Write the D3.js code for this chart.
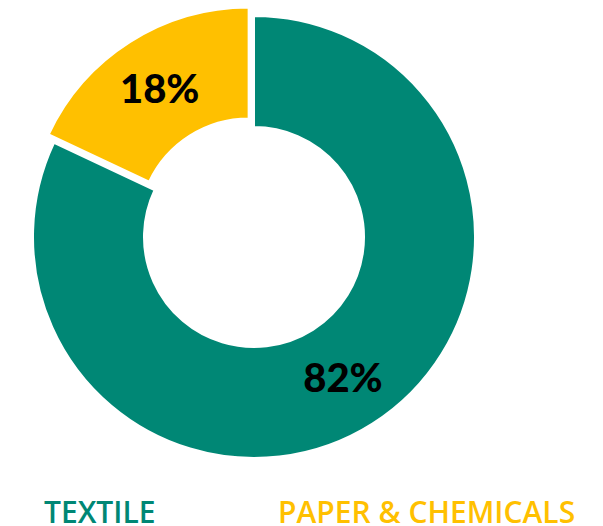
<!DOCTYPE html>
<html>
<head>
<meta charset="utf-8">
<script src="https://cdn.jsdelivr.net/npm/d3@7"></script>
<style>
  body { margin: 0; background: #fff; }
  svg { display: block; }
</style>
</head>
<body>
<div id="chart"></div>
<script>
// data
var categories = ["TEXTILE", "PAPER & CHEMICALS"];
var values = [82, 18];
var colors = ["#008775", "#FFC000"];

var width = 603;
var height = 526;

// donut geometry
var cx = 254, cy = 237;
var outerR = 221, innerR = 110;
var explode = [0, 10];   // the small slice is pulled out a bit
var labelR = 166;

var svg = d3.select("#chart")
  .append("svg")
  .attr("width", width)
  .attr("height", height);

var pie = d3.pie().sort(null).value(function (d) { return d; });
var arcs = pie(values);

var arc = d3.arc().innerRadius(innerR).outerRadius(outerR);

var g = svg.append("g").attr("transform", "translate(" + cx + "," + cy + ")");

function dirOf(d) {
  var a = (d.startAngle + d.endAngle) / 2;
  return [Math.sin(a), -Math.cos(a)];
}

var slices = g.selectAll("g.slice")
  .data(arcs)
  .enter()
  .append("g")
  .attr("class", "slice")
  .attr("transform", function (d, i) {
    var v = dirOf(d);
    return "translate(" + v[0] * explode[i] + "," + v[1] * explode[i] + ")";
  });

slices.append("path")
  .attr("d", arc)
  .attr("fill", function (d, i) { return colors[i]; })
  .attr("stroke", "#fff")
  .attr("stroke-width", 2);

slices.append("text")
  .attr("x", function (d) { return dirOf(d)[0] * labelR; })
  .attr("y", function (d) { return dirOf(d)[1] * labelR; })
  .attr("dy", "0.36em")
  .attr("text-anchor", "middle")
  .attr("font-family", "Lato, 'Open Sans', sans-serif")
  .attr("font-weight", 900)
  .attr("font-size", 40)
  .attr("fill", "#000")
  .text(function (d) { return d.data + "%"; });

// legend: coloured words only
var legendX = [44, 278];
svg.selectAll("text.legend")
  .data(categories)
  .enter()
  .append("text")
  .attr("class", "legend")
  .attr("x", function (d, i) { return legendX[i]; })
  .attr("y", 523)
  .attr("font-family", "'Open Sans', sans-serif")
  .attr("font-weight", 600)
  .attr("font-size", 30)
  .attr("fill", function (d, i) { return colors[i]; })
  .text(function (d) { return d; });
</script>
</body>
</html>
